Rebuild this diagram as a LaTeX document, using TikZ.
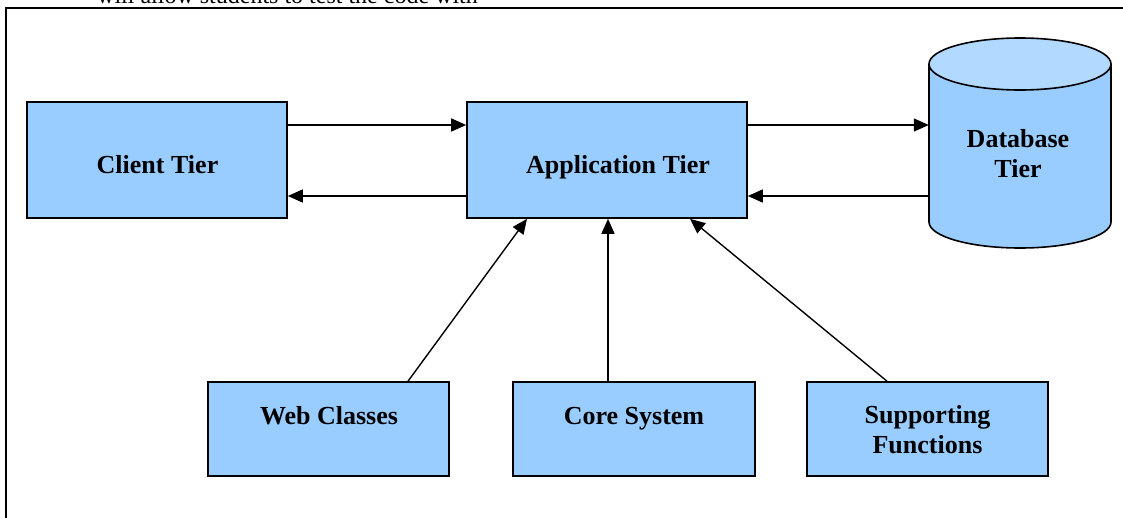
\documentclass[tikz,border=0pt]{standalone}
\usepackage{fontspec}
\setmainfont{Liberation Serif}
\usetikzlibrary{arrows.meta}
\definecolor{boxblue}{RGB}{153,204,255}
\definecolor{topblue}{RGB}{178,217,255}
\begin{document}
\begin{tikzpicture}[x=1pt,y=-1pt,
  tier/.style={draw=black, line width=1.6pt, fill=boxblue, inner sep=0pt},
  lbl/.style={font=\fontsize{26}{30}\selectfont\bfseries, anchor=base, inner sep=0pt},
  conn/.style={line width=1.4pt, -{Triangle[length=15pt,width=13pt]}}]
\useasboundingbox (0,0) rectangle (1123,517);
\clip (0,0) rectangle (1123,517);
\fill[white] (0,0) rectangle (1123,517);
% frame and caption text
\draw[line width=1.6pt] (6,530) -- (6,8) -- (1130,8);
\node[font=\fontsize{24}{28}\selectfont, anchor=base west, inner sep=0pt] (cap) at (97,3.5) {will allow students to test the code with};
% boxes
\node[tier, minimum width=260pt, minimum height=116pt] (client) at (157,160) {};
\node[tier, minimum width=280pt, minimum height=116pt] (app) at (607,160) {};
\node[tier, minimum width=241pt, minimum height=94pt] (web) at (328.5,429) {};
\node[tier, minimum width=242pt, minimum height=94pt] (core) at (634,429) {};
\node[tier, minimum width=241pt, minimum height=94pt] (supp) at (927.5,429) {};
% database cylinder
\path[fill=boxblue] (929,64) -- (929,222) .. controls (929,236.36) and (969.74,248) .. (1020,248) .. controls (1070.26,248) and (1111,236.36) .. (1111,222) -- (1111,64) -- cycle;
\draw[line width=1.6pt] (929,64) -- (929,222) .. controls (929,236.36) and (969.74,248) .. (1020,248) .. controls (1070.26,248) and (1111,236.36) .. (1111,222) -- (1111,64);
\draw[line width=1.6pt, fill=topblue] (929,64) .. controls (929,49.64) and (969.74,38) .. (1020,38) .. controls (1070.26,38) and (1111,49.64) .. (1111,64) .. controls (1111,78.36) and (1070.26,90) .. (1020,90) .. controls (969.74,90) and (929,78.36) .. (929,64) -- cycle;
\node[minimum width=182pt, minimum height=210pt, inner sep=0pt] (db) at (1020,143) {};
% labels
\node[lbl] (clientlbl) at (157.5,173) {Client Tier};
\node[lbl] (applbl) at (618,173) {Application Tier};
\node[lbl] (dblbl1) at (1018,147) {Database};
\node[lbl] (dblbl2) at (1018,177) {Tier};
\node[lbl] (weblbl) at (329,424) {Web Classes};
\node[lbl] (corelbl) at (634,424) {Core System};
\node[lbl] (supplbl1) at (927.5,423) {Supporting};
\node[lbl] (supplbl2) at (927.5,453) {Functions};
% connectors
\draw[conn] ([yshift=35pt]client.east) -- ([yshift=35pt]app.west);
\draw[conn] ([yshift=-36pt]app.west) -- ([yshift=-36pt]client.east);
\draw[conn] ([yshift=35pt]app.east) -- ([yshift=18pt]db.west);
\draw[conn] ([yshift=-53pt]db.west) -- ([yshift=-36pt]app.east);
\draw[conn] ([xshift=79.5pt]web.north) -- ([xshift=-80pt]app.south);
\draw[conn] ([xshift=-26pt]core.north) -- ([xshift=1pt]app.south);
\draw[conn] ([xshift=-40.5pt]supp.north) -- ([xshift=83pt]app.south);
\end{tikzpicture}
\end{document}
